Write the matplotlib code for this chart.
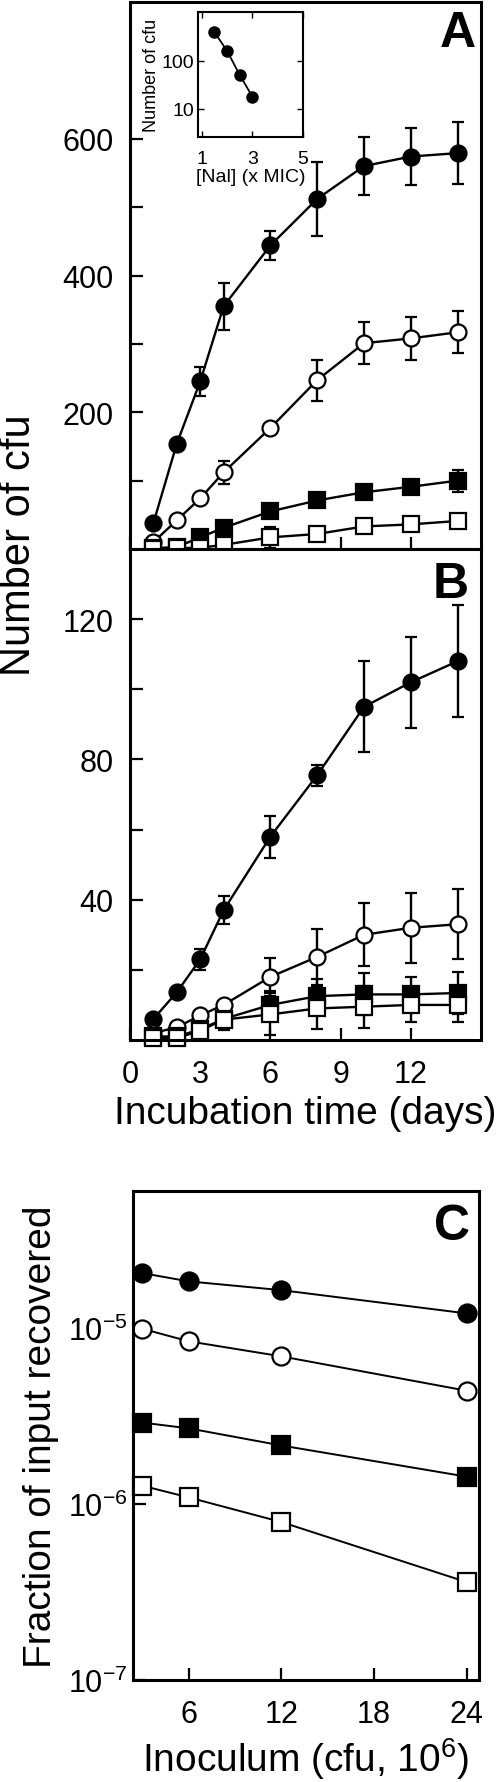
import matplotlib
matplotlib.use('Agg')
import matplotlib.pyplot as plt

plt.rcParams['font.family'] = ['Liberation Sans', 'DejaVu Sans']
plt.rcParams['mathtext.default'] = 'regular'

# incubation time (days), panels A and B
days = [1, 2, 3, 4, 6, 8, 10, 12, 14]

# panel A
a_fc = [38, 154, 245, 355, 444, 512, 560, 574, 579]
a_fc_err = [0, 0, 21, 34, 21, 54, 42, 41, 45]
a_oc = [10, 42, 74, 112, 177, 247, 301, 308, 317]
a_oc_err = [0, 0, 0, 17, 0, 30, 31, 31, 31]
a_fs = [1, 3, 17, 31, 55, 71, 83, 91, 100]
a_fs_err = [0, 0, 0, 0, 6, 8, 10, 10, 16]
a_os = [0, 1, 2, 6, 17, 22, 33, 36, 41]
a_os_err = [0, 0, 0, 0, 15, 0, 0, 0, 0]

# panel B
b_fc = [6, 13.6, 23, 37, 58, 75.5, 95, 102, 108]
b_fc_err = [0, 0, 3, 4, 6, 3, 13, 13, 16]
b_oc = [2, 3.6, 7, 10, 18, 23.7, 30, 32, 33]
b_oc_err = [0, 0, 0, 0, 5.5, 8, 9, 10, 10]
b_fs = [1, 1, 3, 6, 10, 12.5, 13, 13, 13.4]
b_fs_err = [0, 0, 0, 0, 4, 5, 6, 5, 6]
b_os = [0.5, 0.5, 2.7, 5.8, 7.3, 9, 9.5, 10, 10]
b_os_err = [0, 0, 0, 3, 6, 6, 6, 5, 5]

# inset of A
nal = [1.5, 2, 2.5, 3]
nal_cfu = [400, 162, 51, 18]

# panel C
inoc = [3, 6, 12, 24]
c_fc = [2.05e-5, 1.84e-5, 1.64e-5, 1.21e-5]
c_oc = [9.9e-6, 8.4e-6, 6.9e-6, 4.4e-6]
c_fs = [2.9e-6, 2.69e-6, 2.15e-6, 1.43e-6]
c_os = [1.27e-6, 1.09e-6, 7.9e-7, 3.6e-7]

W, H = 500., 1783.
fig = plt.figure(figsize=(W / 100, H / 100), dpi=100, facecolor='w')


def pxAxes(l, t, r, b):
    return fig.add_axes([l / W, 1 - b / H, (r - l) / W, (b - t) / H])


styles = [dict(marker='o', mfc='k'), dict(marker='o', mfc='w'),
          dict(marker='s', mfc='k'), dict(marker='s', mfc='w')]


def styleAx(ax, lw=2.2):
    for s in ax.spines.values():
        s.set_linewidth(lw)
    ax.tick_params(direction='in', length=9, width=1.6, labelsize=22,
                   top=False, right=False)


def plotPanel(ax, ys, errs):
    for y, e, st in zip(ys, errs, styles):
        ax.errorbar(days, y, yerr=e, color='k', lw=1.7, ms=11.5, mew=1.6,
                    mec='k', capsize=4.5, elinewidth=1.7, capthick=1.7,
                    clip_on=False, **st)


axA = pxAxes(130, 3, 481, 550)
plotPanel(axA, [a_fc, a_oc, a_fs, a_os],
          [a_fc_err, a_oc_err, a_fs_err, a_os_err])
axA.set_xlim(0, 15)
axA.set_ylim(0, 800)
axA.set_xticks([0, 3, 6, 9, 12])
axA.set_yticks([100, 200, 300, 400, 500, 600])
axA.set_yticklabels(['', '200', '', '400', '', '600'])
styleAx(axA)
axA.tick_params(labelbottom=False, pad=12)
axA.text(0.985, 0.985, 'A', transform=axA.transAxes, ha='right', va='top',
         fontsize=36, fontweight='bold')

axB = pxAxes(130, 550, 481, 1041)
plotPanel(axB, [b_fc, b_oc, b_fs, b_os],
          [b_fc_err, b_oc_err, b_fs_err, b_os_err])
axB.set_xlim(0, 15)
axB.set_ylim(0, 140)
axB.set_xticks([0, 3, 6, 9, 12])
axB.set_yticks([20, 40, 60, 80, 100, 120])
axB.set_yticklabels(['', '40', '', '80', '', '120'])
styleAx(axB)
axB.tick_params(axis='y', pad=12)
axB.tick_params(axis='x', pad=14)
axB.set_xlabel('Incubation time (days)', fontsize=28, labelpad=4)
axB.text(0.965, 0.975, 'B', transform=axB.transAxes, ha='right', va='top',
         fontsize=36, fontweight='bold')

fig.text(19 / W, 1 - 545 / H, 'Number of cfu', rotation=90, fontsize=30,
         ha='center', va='center')

# inset
axI = pxAxes(198, 13, 303, 138)
axI.semilogy(nal, nal_cfu, color='k', lw=1.3, marker='o', ms=8, mfc='k',
             mec='k')
axI.set_xlim(0.85, 5.0)
axI.set_ylim(2.6, 1050)
axI.set_xticks([1, 3, 5])
axI.set_yticks([10, 100])
axI.set_yticklabels(['10', '100'])
axI.minorticks_off()
for s in axI.spines.values():
    s.set_linewidth(1.5)
axI.tick_params(direction='in', length=4, width=1, labelsize=14, pad=3,
                top=True, right=True)
axI.tick_params(axis='x', pad=9)
axI.set_ylabel('Number of cfu', fontsize=13, labelpad=1)
axI.set_xlabel('[Nal] (x MIC)', fontsize=14, labelpad=1)

# panel C
axC = pxAxes(133, 1192, 479, 1681)
for y, st in zip([c_fc, c_oc, c_fs, c_os], styles):
    axC.semilogy(inoc, y, color='k', lw=1.4, ms=13, mew=1.6, mec='k',
                 clip_on=False, **st)
axC.set_xlim(2.4, 24.8)
axC.set_ylim(1e-7, 6e-5)
axC.set_xticks([6, 12, 18, 24])
axC.set_yticks([1e-7, 1e-6, 1e-5])
axC.set_yticklabels(['$10^{-7}$', '$10^{-6}$', '$10^{-5}$'])
axC.minorticks_off()
styleAx(axC)
axC.tick_params(axis='y', pad=4)
axC.tick_params(axis='x', pad=14)
axC.set_xlabel('Inoculum (cfu, $10^6$)', fontsize=28, labelpad=4)
axC.set_ylabel('Fraction of input recovered', fontsize=28, labelpad=6)
axC.text(0.975, 0.975, 'C', transform=axC.transAxes, ha='right', va='top',
         fontsize=36, fontweight='bold')

fig.savefig('out.png', dpi=100, facecolor='w')
